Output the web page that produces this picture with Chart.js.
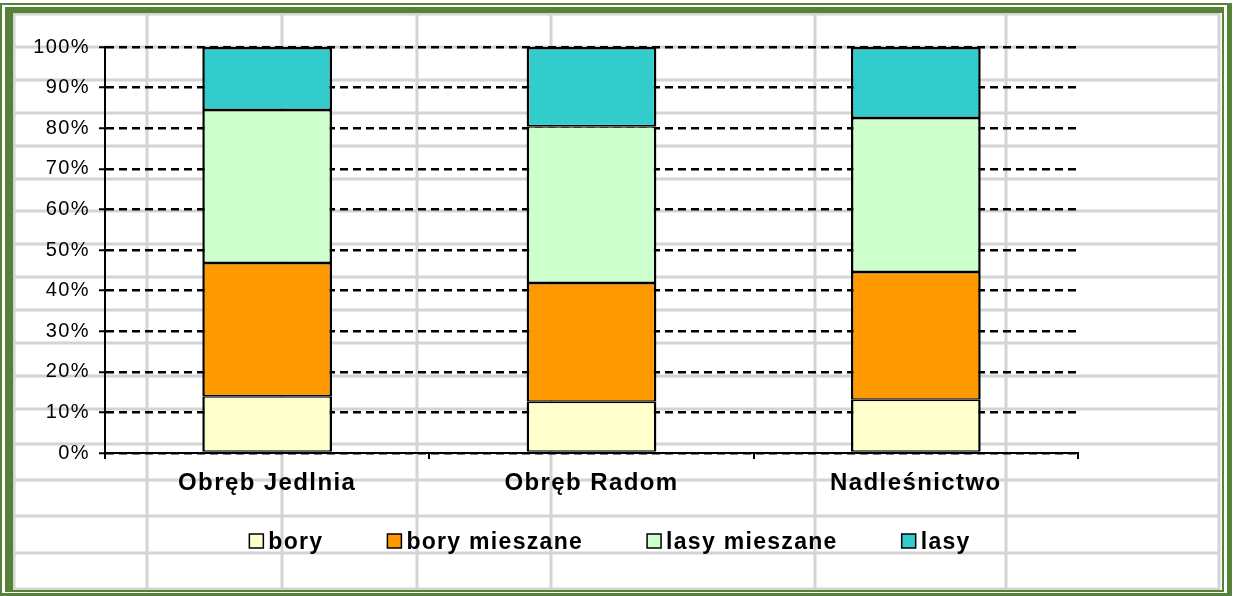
<!DOCTYPE html>
<html>
<head>
<meta charset="utf-8">
<title>Struktura siedlisk</title>
<script src="https://cdn.jsdelivr.net/npm/chart.js@4.4.1/dist/chart.umd.min.js"></script>
<style>
    html, body { margin: 0; padding: 0; background: #fff; }
    canvas { display: block; }
</style>
</head>
<body>
<canvas id="chart" width="1234" height="596"></canvas>
<script>
// ================= DATA =================
const categories = ["Obręb Jedlnia", "Obręb Radom", "Nadleśnictwo"];
const seriesNames = ["bory", "bory mieszane", "lasy mieszane", "lasy"];
const bory = [14.0, 12.6, 13.1];
const boryMieszane = [32.8, 29.3, 31.5];
const lasyMieszane = [37.7, 38.6, 37.9];
const lasy = [15.5, 19.5, 17.5];
const yTickStep = 10;

// ================= STYLE =================
const colors = ["#FFFFCC", "#FF9900", "#CCFFCC", "#33CCCC"];
const GREEN = "#568238";
const CELL_GRAY = "#d4d4d4";
const FONT = "'Liberation Sans', Arial, sans-serif";

// spreadsheet cell lines behind the chart
const cellCols = [14, 147, 282, 417, 551, 815, 1006, 1219];
const cellRows = [14, 47, 80, 113, 146, 179, 211, 244, 277, 310, 343, 376, 409, 444, 480, 516, 553, 589];

function setSpacing(chart) {
    chart.ctx.letterSpacing = "1.4px";
}

const framePlugin = {
    id: "frame",
    beforeUpdate: setSpacing,
    beforeLayout: setSpacing,
    beforeDraw(chart) {
        const ctx = chart.ctx;
        ctx.save();
        ctx.fillStyle = "#fff";
        ctx.fillRect(0, 0, chart.width, chart.height);

        ctx.strokeStyle = CELL_GRAY;
        ctx.lineWidth = 3;
        cellCols.forEach(x => {
            ctx.beginPath();
            ctx.moveTo(x, 13);
            ctx.lineTo(x, 590);
            ctx.stroke();
        });
        cellRows.forEach(y => {
            ctx.beginPath();
            ctx.moveTo(13, y);
            ctx.lineTo(1220, y);
            ctx.stroke();
        });

        // double green frame
        ctx.fillStyle = GREEN;
        ctx.fillRect(0, 3, 2, 593);
        ctx.fillRect(0, 3, 1232, 2);
        ctx.fillRect(1227, 3, 5, 593);
        ctx.fillRect(0, 593, 1232, 3);
        ctx.fillRect(5, 7, 8, 585);
        ctx.fillRect(5, 7, 1219, 6);
        ctx.fillRect(1222, 7, 2, 585);
        ctx.fillRect(5, 590, 1219, 2);
        ctx.restore();
        setSpacing(chart);
    },
    afterDraw(chart) {
        // legend row
        const ctx = chart.ctx;
        ctx.save();
        ctx.font = "bold 23px " + FONT;
        ctx.letterSpacing = "1.3px";
        const box = 14, textGap = 5, itemGap = 64;
        const items = chart.data.datasets.map(ds => ({
            label: ds.label,
            color: ds.backgroundColor,
            w: ctx.measureText(ds.label).width
        }));
        let total = items.reduce((s, it) => s + box + textGap + it.w, 0) + itemGap * (items.length - 1);
        let x = 610 - total / 2;
        const baseline = 549;
        items.forEach(it => {
            ctx.fillStyle = it.color;
            ctx.fillRect(x, 534, box, box);
            ctx.strokeStyle = "#000";
            ctx.lineWidth = 1.5;
            ctx.strokeRect(x, 534, box, box);
            ctx.fillStyle = "#000";
            ctx.textAlign = "left";
            ctx.textBaseline = "alphabetic";
            ctx.fillText(it.label, x + box + textGap, baseline);
            x += box + textGap + it.w + itemGap;
        });
        ctx.restore();
    }
};

function segBorder(top) {
    return { top: top, bottom: 1.5, left: 2.5, right: 2.5 };
}

const values = [bory, boryMieszane, lasyMieszane, lasy];

new Chart(document.getElementById("chart"), {
    type: "bar",
    data: {
        labels: categories,
        datasets: values.map((v, i) => ({
            label: seriesNames[i],
            data: v,
            backgroundColor: colors[i],
            borderColor: "#000",
            borderWidth: segBorder(i === values.length - 1 ? 2.5 : 1.5),
            borderSkipped: false,
            barPercentage: 0.4,
            categoryPercentage: 1.0
        }))
    },
    options: {
        responsive: false,
        animation: false,
        devicePixelRatio: 1,
        layout: {
            padding: { left: 0, top: 47, right: 156, bottom: 0 }
        },
        plugins: {
            legend: { display: false },
            tooltip: { enabled: false }
        },
        scales: {
            x: {
                stacked: true,
                grid: {
                    display: true,
                    drawOnChartArea: false,
                    drawTicks: true,
                    tickLength: 6,
                    color: "#000",
                    lineWidth: 2,
                    offset: true
                },
                border: { display: true, color: "#000", width: 2 },
                ticks: {
                    color: "#000",
                    padding: 10,
                    font: { family: FONT, size: 24, weight: "bold" }
                },
                afterFit(scale) { scale.height = 143; }
            },
            y: {
                stacked: true,
                min: 0,
                max: 100,
                grid: {
                    color: "#000",
                    lineWidth: 2.5,
                    tickLength: 6,
                    tickColor: "#000",
                    tickWidth: 2
                },
                border: { display: true, color: "#000", width: 2, dash: [8, 5] },
                ticks: {
                    stepSize: yTickStep,
                    color: "#000",
                    padding: 9,
                    font: { family: FONT, size: 20 },
                    callback: v => v + "%"
                },
                afterFit(scale) { scale.width = 105; }
            }
        }
    },
    plugins: [framePlugin]
});
</script>
</body>
</html>
